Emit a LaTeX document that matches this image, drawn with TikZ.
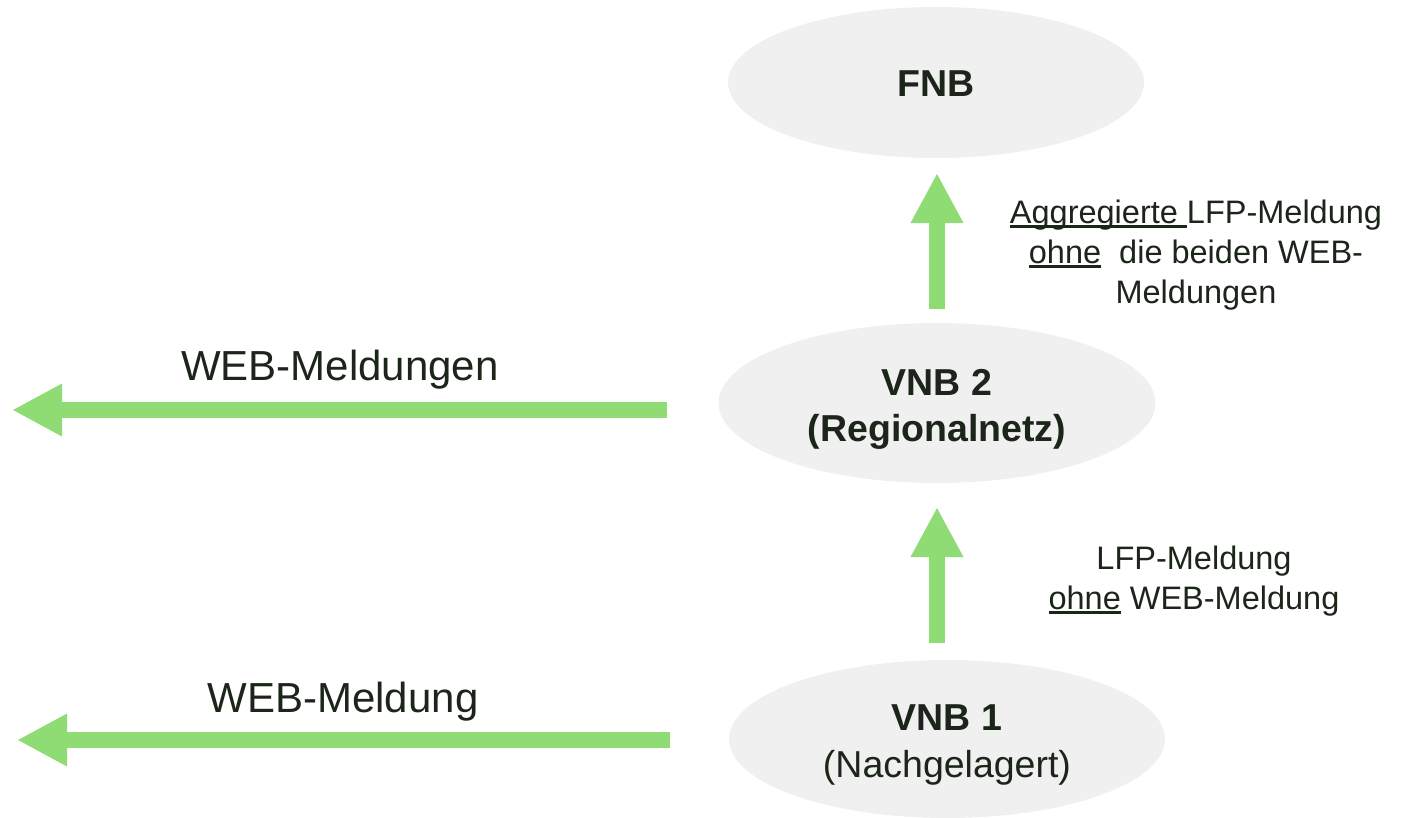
\documentclass[tikz,border=0pt]{standalone}
\usepackage{fontspec}
\setmainfont{Liberation Sans}
\usetikzlibrary{shapes.geometric,arrows.meta}
\definecolor{txt}{HTML}{1C2519}
\definecolor{ellfill}{HTML}{F0F0F0}
\definecolor{arrgreen}{HTML}{8FDB74}
\newcommand\myul[1]{\setbox0\hbox{#1}\rlap{\color{txt}\rule[-0.14em]{\wd0}{0.085em}}\box0\relax}
\tikzset{
  ell/.style={ellipse, fill=ellfill, draw=none, inner sep=0pt, text=txt, align=center},
  lbl/.style={text=txt, align=center, inner sep=0pt},
  bigarrow/.style={draw=arrgreen, line width=16pt, -{Triangle[width=49pt,length=50pt]}}
}
\begin{document}
\begin{tikzpicture}[x=1pt,y=-1pt]
\useasboundingbox (0,0) rectangle (1407,817);
% ellipses
\node[ell, minimum width=416pt, minimum height=151pt] (fnb) at (936,82.5) {};
\node[lbl, font=\fontsize{37.5}{46}\selectfont\bfseries] (fnbt) at (936,84) {FNB};
\node[ell, minimum width=437pt, minimum height=160pt] (vnb2) at (937,403) {};
\node[lbl, font=\fontsize{37.5}{46}\selectfont\bfseries] (vnb2t) at (937,409) {VNB 2\\(Regionalnetz)};
\node[ell, minimum width=436pt, minimum height=158pt] (vnb1) at (947,739) {};
\node[lbl, font=\fontsize{37.5}{47}\selectfont] (vnb1t) at (947,745) {\textbf{VNB 1}\\(Nachgelagert)};
% vertical arrows
\coordinate (a1s) at (937,309);
\coordinate (a1e) at (937,173);
\coordinate (a2s) at (937,643);
\coordinate (a2e) at (937,507);
\draw[bigarrow] (a1s) -- (a1e);
\draw[bigarrow] (a2s) -- (a2e);
% horizontal arrows
\coordinate (h1s) at (667,410);
\coordinate (h1e) at (12,410);
\coordinate (h2s) at (670,740);
\coordinate (h2e) at (17,740);
\draw[bigarrow] (h1s) -- (h1e);
\draw[bigarrow] (h2s) -- (h2e);
% labels
\node[lbl, font=\fontsize{32.5}{40}\selectfont] (l1) at (1196,255) {\myul{Aggregierte\ }LFP-Meldung\\\myul{ohne}\ \ die beiden WEB-\\Meldungen};
\node[lbl, font=\fontsize{32.5}{40}\selectfont] (l2) at (1194,581) {LFP-Meldung\\\myul{ohne} WEB-Meldung};
\node[lbl, font=\fontsize{42}{48}\selectfont] (w1) at (340,370) {WEB-Meldungen};
\node[lbl, font=\fontsize{42}{48}\selectfont] (w2) at (343,702) {WEB-Meldung};
\end{tikzpicture}
\end{document}
